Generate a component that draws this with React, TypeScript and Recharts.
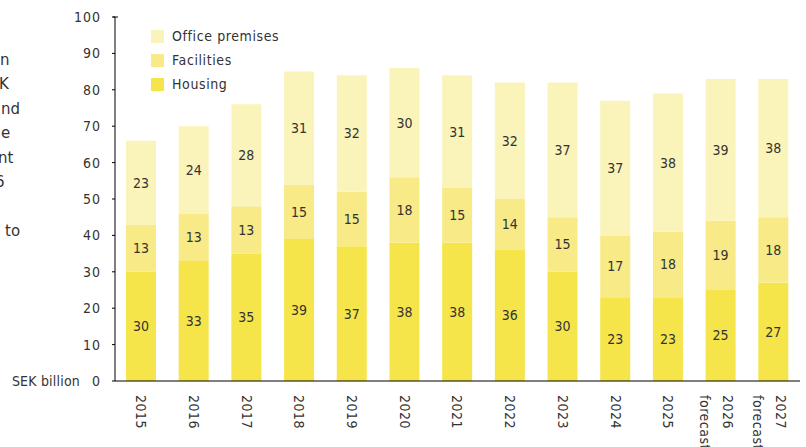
import { Bar, BarChart, LabelList, XAxis, YAxis } from "recharts"

const years = ["2015", "2016", "2017", "2018", "2019", "2020", "2021", "2022", "2023", "2024", "2025", "2026", "2027"]
const housing = [30, 33, 35, 39, 37, 38, 38, 36, 30, 23, 23, 25, 27]
const facilities = [13, 13, 13, 15, 15, 18, 15, 14, 15, 17, 18, 19, 18]
const office = [23, 24, 28, 31, 32, 30, 31, 32, 37, 37, 38, 39, 38]
const forecastYears = ["2026", "2027"]
const yTicks = [0, 10, 20, 30, 40, 50, 60, 70, 80, 90, 100]
const sideText = ["n", "K", "nd", "e", "nt", "6", "", "to"]
const sideOffsets = [0, -1, 1, 1, -2, -5, 0, 5]

const FONT = "'DejaVu Sans Condensed', 'DejaVu Sans', sans-serif"
const TEXT = "#333333"
const COLORS = { housing: "#f5e54b", facilities: "#f7ea87", office: "#faf4ba" }

const chartData = years.map((year, i) => ({
  year,
  housing: housing[i],
  facilities: facilities[i],
  office: office[i],
}))

const legendItems = [
  { label: "Office premises", color: COLORS.office },
  { label: "Facilities", color: COLORS.facilities },
  { label: "Housing", color: COLORS.housing },
]

function YTick({ x, y, payload }: { x?: number; y?: number; payload?: { value: number } }) {
  const v = payload?.value ?? 0
  const axisX = (x ?? 0) + 14
  return (
    <g>
      <text x={x} y={y} dy="0.36em" textAnchor="end" fill={TEXT} fontFamily={FONT} fontSize={14} letterSpacing={1}>
        {v}
      </text>
      {v === 0 && (
        <text x={(x ?? 0) - 21} y={y} dy="0.36em" textAnchor="end" fill={TEXT} fontFamily={FONT} fontSize={14} letterSpacing={0.2}>
          SEK billion
        </text>
      )}
      {v === 100 && <line x1={axisX - 2} x2={axisX + 3} y1={y} y2={y} stroke="#000" />}
    </g>
  )
}

function XTick({ x, y, payload }: { x?: number; y?: number; payload?: { value: string } }) {
  const label = payload?.value ?? ""
  const forecast = forecastYears.includes(label)
  const ty = (y ?? 0) + 12
  return (
    <g transform={`translate(${x},${ty}) rotate(90)`}>
      <text x={0} y={0} textAnchor="start" fill={TEXT} fontFamily={FONT} fontSize={14} letterSpacing={0.5}>
        {forecast ? (
          <>
            <tspan x={0} dy={-2}>{label}</tspan>
            <tspan x={0} dy={23}>forecast</tspan>
          </>
        ) : (
          <tspan x={0} dy="0.36em">{label}</tspan>
        )}
      </text>
    </g>
  )
}

const labelStyle = { fill: TEXT, fontFamily: FONT, fontSize: 14 }

export default function App() {
  return (
    <div style={{ position: "absolute", left: 0, top: 0, width: 806, height: 447, background: "#fff", overflow: "hidden" }}>
      <div style={{ position: "absolute", left: 0, top: 48, fontFamily: "'DejaVu Sans', sans-serif", fontSize: 15, lineHeight: "24.4px", color: TEXT }}>
        {sideText.map((t, i) => (
          <div key={i} style={{ marginLeft: sideOffsets[i], whiteSpace: "pre" }}>
            {t || "\u00a0"}
          </div>
        ))}
      </div>

      <BarChart width={806} height={447} data={chartData} margin={{ top: 17, right: 6, bottom: 6, left: 55 }}>
        <XAxis
          dataKey="year"
          axisLine={{ stroke: "#000" }}
          tickLine={false}
          tickSize={0}
          height={60}
          interval={0}
          tick={<XTick />}
        />
        <YAxis
          domain={[0, 100]}
          ticks={yTicks}
          interval={0}
          width={60}
          axisLine={{ stroke: "#000" }}
          tickLine={{ stroke: "#000" }}
          tickSize={3}
          tickMargin={11}
          tick={<YTick />}
        />
        <Bar dataKey="housing" stackId="a" fill={COLORS.housing} barSize={30} isAnimationActive={false}>
          <LabelList dataKey="housing" position="center" style={labelStyle} />
        </Bar>
        <Bar dataKey="facilities" stackId="a" fill={COLORS.facilities} barSize={30} isAnimationActive={false}>
          <LabelList dataKey="facilities" position="center" style={labelStyle} />
        </Bar>
        <Bar dataKey="office" stackId="a" fill={COLORS.office} barSize={30} isAnimationActive={false}>
          <LabelList dataKey="office" position="center" style={labelStyle} />
        </Bar>
      </BarChart>

      <div style={{ position: "absolute", left: 151, top: 24, fontFamily: FONT, fontSize: 14, color: TEXT, letterSpacing: 0.6 }}>
        {legendItems.map((item) => (
          <div key={item.label} style={{ display: "flex", alignItems: "center", height: 24 }}>
            <span style={{ display: "inline-block", width: 13, height: 13, background: item.color, marginRight: 8 }} />
            {item.label}
          </div>
        ))}
      </div>
    </div>
  )
}
